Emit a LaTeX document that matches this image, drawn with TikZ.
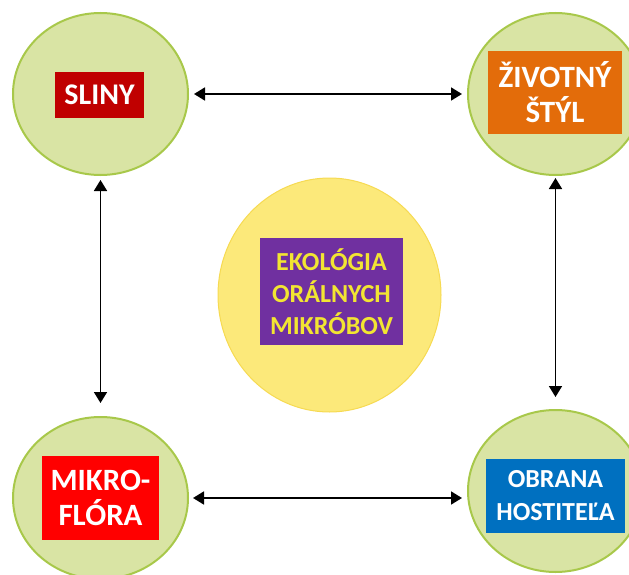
\documentclass[tikz,border=0pt]{standalone}
\usepackage{fontspec}
\setmainfont{Carlito}
\usetikzlibrary{arrows.meta,shapes.geometric}

\definecolor{ringfill}{HTML}{D9E4A4}
\definecolor{ringedge}{HTML}{A8C84A}
\definecolor{corefill}{HTML}{FCE97A}
\definecolor{coreedge}{HTML}{F6DA52}
\definecolor{slinyred}{HTML}{C00000}
\definecolor{lifeorange}{HTML}{E36C0A}
\definecolor{florared}{HTML}{FF0000}
\definecolor{defblue}{HTML}{0070C0}
\definecolor{ecopurple}{HTML}{7030A0}
\definecolor{ecotext}{HTML}{F2E532}

\tikzset{
  ring/.style={ellipse, draw=ringedge, fill=ringfill, line width=2pt,
    minimum width=175pt, minimum height=162pt, inner sep=0pt},
  core/.style={ellipse, draw=coreedge, fill=corefill, line width=1pt,
    minimum width=223pt, minimum height=234pt, inner sep=0pt},
  label/.style={rectangle, inner sep=0pt, align=center, text=white,
    font=\bfseries},
  link/.style={line width=1.8pt, {Triangle[length=11pt,width=13pt]}-{Triangle[length=11pt,width=13pt]}},
}

\begin{document}
\begin{tikzpicture}[x=1pt, y=-1pt]
  \useasboundingbox (0,0) rectangle (629,575);
  \clip (0,0) rectangle (629,575);

  % four outer circles
  \node[ring] (tl) at (100.5,94) {};
  \node[ring] (tr) at (555.5,94) {};
  \node[ring] (bl) at (100.5,498) {};
  \node[ring] (br) at (555.5,491) {};

  % central ellipse
  \node[core] (mid) at (329.5,295) {};

  % coloured labels
  \node[label, fill=slinyred, minimum width=89pt, minimum height=46pt,
        font=\bfseries\fontsize{30}{34}\selectfont] (sliny) at (99.5,95) {SLINY};
  \node[label, fill=lifeorange, minimum width=134pt, minimum height=83pt,
        font=\bfseries\fontsize{31}{35}\selectfont] (styl) at (555,92.5) {ŽIVOTNÝ\\ŠTÝL};
  \node[label, fill=florared, minimum width=117pt, minimum height=84pt,
        font=\bfseries\fontsize{31}{35}\selectfont] (flora) at (100.5,498) {MIKRO-\\FLÓRA};
  \node[label, fill=defblue, minimum width=139pt, minimum height=74pt,
        font=\bfseries\fontsize{26}{33}\selectfont] (obrana) at (555.5,496) {OBRANA\\HOSTITEĽA};
  \node[label, fill=ecopurple, text=ecotext, minimum width=143pt, minimum height=107pt,
        font=\bfseries\fontsize{26}{32}\selectfont] (eko) at (331.5,291.5) {EKOLÓGIA\\ORÁLNYCH\\MIKRÓBOV};

  % two-way links between the circles
  \draw[link, shorten <=5pt, shorten >=5pt] (tl.east) -- (tr.west);
  \draw[link, shorten <=4pt, shorten >=5pt] (bl.east) -- (bl.east -| br.west);
  \draw[link, shorten <=4pt, shorten >=13pt] (tl.south) -- (bl.north);
  \draw[link, shorten <=2pt, shorten >=12pt] (tr.south) -- (br.north);
\end{tikzpicture}
\end{document}
